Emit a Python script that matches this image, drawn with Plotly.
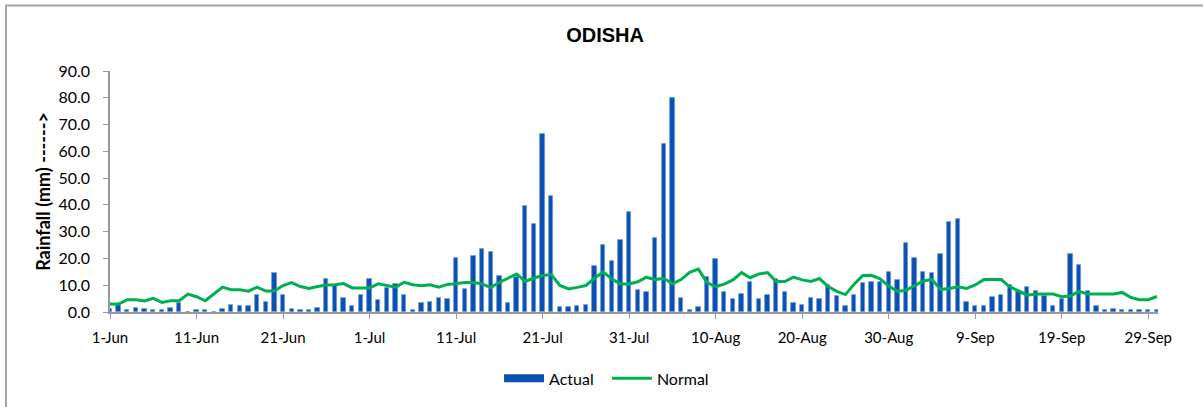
import pandas as pd
import plotly.graph_objects as go

# Daily rainfall, 1 June - 30 September (mm)
start_date = "2023-06-01"
actual_mm = [
    1.1, 2.6, 0.7, 1.6, 1.1, 0.7, 0.7, 1.6, 3.3, 0.0,
    0.7, 0.7, 0.0, 1.1, 2.6, 2.1, 2.1, 6.4, 3.8, 14.4,
    6.4, 1.1, 0.7, 0.7, 1.6, 12.2, 10.1, 5.4, 2.1, 6.4,
    12.3, 4.4, 9.1, 10.4, 6.4, 0.7, 3.3, 3.8, 5.4, 4.9,
    20.2, 8.6, 20.9, 23.4, 22.4, 13.4, 3.3, 13.0, 39.5, 32.7,
    66.6, 43.2, 1.7, 1.7, 2.2, 2.7, 17.3, 25.1, 19.2, 26.8,
    37.4, 8.1, 7.6, 27.8, 62.8, 79.9, 5.4, 0.6, 1.8, 12.9,
    19.8, 7.5, 4.8, 6.9, 11.2, 4.8, 6.4, 12.2, 7.5, 3.2,
    2.7, 5.3, 4.8, 10.1, 5.9, 2.1, 6.4, 10.7, 11.2, 11.3,
    14.9, 11.8, 25.7, 20.0, 15.0, 14.6, 21.5, 33.7, 34.8, 3.9,
    2.3, 2.3, 5.6, 6.5, 9.9, 7.8, 9.2, 8.0, 5.9, 2.1,
    4.8, 21.5, 17.7, 7.7, 2.1, 0.7, 1.1, 0.6, 0.6, 0.6,
    0.6, 0.6,
]
normal_mm = [
    3.0, 3.0, 4.6, 4.6, 4.1, 5.1, 3.6, 4.2, 4.2, 6.7,
    5.7, 4.2, 6.7, 9.3, 8.3, 8.3, 7.8, 9.3, 7.8, 7.8,
    9.9, 11.0, 9.5, 8.8, 9.5, 10.1, 10.2, 10.6, 9.0, 8.9,
    9.0, 10.5, 10.0, 9.3, 11.1, 10.2, 9.8, 10.2, 9.3, 10.3,
    10.6, 11.0, 11.0, 10.5, 9.1, 11.1, 12.6, 14.2, 11.4, 12.7,
    13.6, 14.0, 9.9, 8.6, 9.2, 9.9, 12.6, 15.0, 12.3, 10.5,
    10.5, 11.3, 13.0, 12.1, 12.6, 10.5, 12.1, 14.8, 16.0, 11.0,
    9.5, 10.4, 12.0, 14.7, 12.8, 14.2, 14.7, 11.4, 11.4, 13.0,
    12.0, 11.4, 12.5, 9.5, 7.7, 6.5, 10.4, 13.6, 13.7, 12.4,
    9.7, 7.7, 8.1, 9.9, 11.6, 12.1, 8.4, 8.8, 9.4, 8.8,
    10.1, 12.1, 12.1, 12.1, 9.4, 7.85, 6.3, 6.7, 6.7, 6.7,
    5.7, 6.0, 7.7, 6.7, 6.7, 6.7, 6.7, 7.3, 5.4, 4.6,
    4.6, 5.8,
]
y_ticks = [0, 10, 20, 30, 40, 50, 60, 70, 80, 90]

dates = pd.date_range(start_date, periods=len(actual_mm), freq="D")
x_ticks = dates[::10]

FONT = "Lato, 'Open Sans', sans-serif"
DAY_MS = 86400000
BAR_BLUE = "#0C4FB3"

fig = go.Figure()
fig.add_trace(go.Bar(
    x=dates, y=actual_mm, name="Actual", showlegend=False,
    width=0.5 * DAY_MS,
    marker=dict(color=BAR_BLUE, line=dict(color="#6E9BDB", width=0.8)),
))
# Legend key for the bars: a wide filled swatch
fig.add_trace(go.Scatter(
    x=[None], y=[None], name="Actual&nbsp;&nbsp;", mode="lines",
    line=dict(color=BAR_BLUE, width=8),
))
fig.add_trace(go.Scatter(
    x=dates, y=normal_mm, name="Normal", mode="lines",
    line=dict(color="#00B050", width=3),
))

W, H = 1203, 407
L, R, T, B = 110, 45, 71, 93
pw, ph = W - L - R, H - T - B

fig.update_layout(
    width=W, height=H,
    margin=dict(l=L, r=R, t=T, b=B),
    paper_bgcolor="white", plot_bgcolor="white",
    font=dict(family=FONT, size=14, color="#000000"),
    title=dict(text="<b>ODISHA</b>", x=0.503, xanchor="center",
               y=1 - 35 / H, yanchor="middle",
               font=dict(family="Liberation Sans, Arial, sans-serif", size=20)),
    showlegend=True,
    legend=dict(orientation="h", x=0.4738, xanchor="center",
                y=(314 - 381) / ph, yanchor="middle",
                font=dict(size=16), itemwidth=40, tracegroupgap=0),
    bargap=0,
    xaxis=dict(
        type="date",
        range=[dates[0], dates[-1] + pd.Timedelta(hours=3)],
        tickvals=x_ticks, tickformat="%-d-%b",
        showline=True, linecolor="#999999", linewidth=1.5,
        ticks="outside", ticklen=5, tickcolor="#999999",
        showgrid=False, zeroline=False,
        tickfont=dict(size=15), ticklabelstandoff=6,
    ),
    yaxis=dict(
        range=[0, 90], tickvals=y_ticks, tickformat=".1f",
        showline=True, linecolor="#999999", linewidth=1.5,
        ticks="outside", ticklen=5, tickcolor="#999999",
        showgrid=False, zeroline=False,
        tickfont=dict(size=16), ticklabelstandoff=10,
        title=dict(text="<b>Rainfall (mm) ------></b>",
                   font=dict(size=18, family="Lato, sans-serif"),
                   standoff=3),
    ),
)

# Outer chart border (left and top edges visible in the frame)
fig.add_shape(
    type="rect", xref="paper", yref="paper",
    x0=(6 - L) / pw, x1=(W + 20 - L) / pw,
    y0=-(H + 20 - (T + ph)) / ph, y1=(T + ph - 5) / ph,
    line=dict(color="#A6A6A6", width=2), fillcolor="rgba(0,0,0,0)",
    layer="below",
)

fig.write_html("out.html")
